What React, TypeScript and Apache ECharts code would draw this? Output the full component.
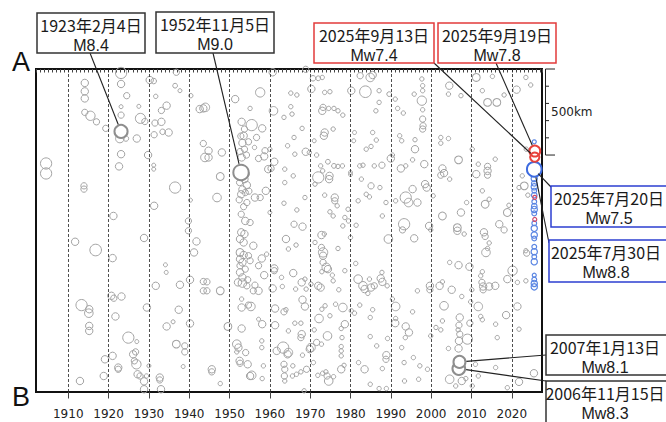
import React, { useEffect, useRef } from 'react';
import * as echarts from 'echarts';

const decades = [1910, 1920, 1930, 1940, 1950, 1960, 1970, 1980, 1990, 2000, 2010, 2020];

// [year, distance from A (km), magnitude]
const quakes1900s: number[][] = [
  [1923.1,23,7.9],[1914.1,81,6.9],[1914.1,130,6.9],[1914.1,171,6.9],[1923.1,87,6.9],[1924.5,155,6.6],[1923.1,219,6.0],[1923.1,268,6.6],[1914.1,252,6.6],[1915.5,272,7.4],[1917,307,6.6],[1919.3,345,6.6],[1922.8,404,7.2],[1924.3,404,6.4],[1927,404,6.9],[1923.1,495,6.9],[1922.6,566,6.9],[1904.5,549,7.9],[1904.5,607,7.9],[1913.9,679,6.6],[1913.9,698,6.6],[1921.2,854,6.9],[1930.2,64,6.9],[1931.2,70,6.4],[1936.8,19,6.6],[1936.5,97,6.2],[1937.7,126,6.0],[1931.7,159,6.1],[1927.5,217,6.0],[1927.9,287,7.6],[1929,305,6.6],[1931.5,314,6.6],[1933.1,307,6.9],[1933.1,241,6.6],[1934.4,213,6.9],[1931.3,382,6.6],[1933.4,365,6.4],[1934.9,369,6.9],[1929.8,500,6.9],[1931.2,559,6.0],[1931.2,582,6.0],[1936.5,689,7.9],[1931.3,795,6.9],[1940.3,762,6.0],[1940.4,155,6.1],[1942.6,233,6.9],[1943.5,229,6.9],[1943.5,433,6.6],[1943.9,514,7.2],[1939.8,883,6.6],
  [1911.7,1004,6.9],[1916.8,1052,8.0],[1921,1099,6.9],[1928.8,982,6.9],[1939.8,940,6.6],[1941.8,1002,6.9],[1941.2,1066,6.9],[1934.1,1138,6.0],[1934.3,1182,6.0],[1931.7,1260,6.9],[1937.7,1254,6.9],[1940.2,1225,6.9],[1943.5,1235,6.6],[1943.5,1289,6.6],[1920.7,1318,6.9],[1921.3,1332,6.6],[1923.2,1322,6.9],[1913.3,1372,7.9],[1915.2,1396,6.9],[1915.1,1419,7.2],[1915.2,1493,6.9],[1915.2,1522,6.9],[1921.7,1438,6.9],[1929.5,1386,6.9],[1937.4,1399,6.9],[1934.4,1496,6.9],[1936,1469,6.0],[1940.2,1479,6.9],[1924.9,1561,7.9],[1927,1584,6.0],[1936.8,1599,7.0],[1938.9,1609,6.6],[1938.9,1644,6.6],[1938.5,1729,6.0],[1921,1667,6.9],[1919.1,1687,6.9],[1922.4,1735,6.9],[1922.4,1745,6.6],[1926.1,1658,6.9],[1926.7,1644,6.6],[1926.9,1716,7.4],[1927.2,1774,6.9],[1927.8,1784,6.6],[1929.4,1784,6.1],[1930,1725,6.0],[1928.8,1815,6.9],[1932.7,1793,6.9],[1932.7,1807,6.6],[1918.8,1784,6.9],[1912.9,1813,6.9],[1928.8,1861,6.9],[1933,1861,6.9],[1926.4,1696,6.6],
];

const quakesMid: number[][] = [
  [1960.7,19,6.9],[1968.9,2,6.6],[1970.7,54,6.4],[1972,54,6.2],[1973,49,6.1],[1957.6,136,7.4],[1951.4,175,6.9],[1960.9,243,7.2],[1955.1,229,6.1],[1953,307,6.9],[1955.5,326,7.9],[1958.1,345,6.9],[1953.7,349,6.6],[1953.5,388,6.9],[1956.7,398,6.6],[1954.7,423,6.6],[1953.7,466,6.6],[1956.2,456,6.1],[1958.8,475,6.6],[1958.6,508,6.9],[1953,514,6.9],[1957.2,520,6.6],[1961.1,539,6.9],[1959.6,582,6.9],[1953.7,640,6.9],[1954.3,675,6.9],[1952.9,728,6.9],[1953.9,718,6.6],[1956.3,747,6.9],[1957.6,747,6.6],[1959,708,6.9],[1946.9,747,7.2],[1947.7,625,7.0],[1954.3,776,6.6],[1952.9,844,6.6],[1953.9,883,6.9],[1955.1,892,6.6],[1944,223,7.2],[1944.8,475,6.9],[1944.8,514,6.9],[1948.1,485,6.9],[1960.3,578,6.6],[1960,834,6.0],[1963.5,281,6.1],[1965.2,140,6.1],[1966.7,151,6.1],[1965.2,219,6.1],[1965.5,262,6.1],[1968,345,6.1],[1966,398,6.1],[1964.4,446,6.1],[1968.9,481,6.9],[1963.7,582,6.1],[1965.8,621,6.1],[1963.7,660,6.1],[1963.5,780,6.1],[1966.7,819,6.1],[1966,902,6.6],[1968.1,916,6.9],[1968.7,747,6.1],[1970.3,116,6.9],[1973.6,136,6.1],[1974.9,132,6.1],[1973.2,223,6.6],[1973,243,6.9],[1974.6,229,6.1],[1975.9,229,6.1],[1976.9,243,6.1],[1978.1,268,6.1],[1973.6,369,6.9],[1973.4,388,6.9],[1975.7,349,6.1],[1971,417,6.0],[1969.8,485,6.1],[1971.6,500,6.1],[1974.4,539,6.2],[1975.9,563,6.2],[1976.9,566,6.1],[1978,563,6.1],[1972.6,563,6.1],[1974.8,621,6.9],[1974.7,640,6.9],[1972,630,7.9],[1973.1,592,6.1],[1971.2,669,6.1],[1976.1,747,6.9],[1976.1,766,6.6],[1976.7,795,6.1],[1973.6,733,6.1],[1974.9,830,6.1],[1975.7,854,6.1],[1978.1,912,6.1],[1980.2,126,6.9],[1983.7,132,8.0],[1982.4,39,6.6],[1984.9,49,7.2],[1981,369,6.0],[1980.8,417,6.0],[1983.9,466,6.1],[1985.1,450,6.1],[1980,601,6.0],[1980,613,6.0],[1982.3,563,6.1],[1983.1,559,6.1],[1982.7,640,6.1],[1985.1,679,6.6],[1983.9,728,6.1],[1984.7,743,6.1],[1981.9,766,6.1],[1979.4,815,6.1],[1981.4,908,6.1],[1979.5,883,6.1],[1978.6,863,6.1],[1966.2,495,6.1],[1960,466,6.1],
  [1952.5,660,6.6],[1953.2,700,6.9],[1952.4,760,6.6],[1953.5,800,6.6],[1954.8,710,6.6],[1952.2,620,6.6],[1954.0,610,6.9],[1952.8,390,6.6],[1953.2,430,6.9],[1952.6,480,6.6],[1954.2,500,6.6],
  [1952.9,949,6.9],[1953.7,959,6.9],[1952.6,988,6.9],[1953.5,1008,6.9],[1952.6,1066,7.0],[1953.5,1081,6.9],[1952.6,1105,6.9],[1953.2,1124,6.9],[1952.6,1143,6.6],[1953.9,1163,6.6],[1952.6,1182,6.9],[1953.2,1211,6.9],[1952.1,1240,6.9],[1953.2,1244,7.2],[1954.3,1260,6.6],[1955.9,1027,6.9],[1954.7,1085,6.6],[1955.1,1114,6.6],[1958,1101,6.9],[1959.2,1076,6.1],[1957.2,1143,6.6],[1958.6,1198,6.9],[1954.5,1225,6.6],[1956.3,1256,6.6],[1957.2,1289,6.9],[1955.9,1289,6.6],[1953,1337,6.1],[1953,1386,6.9],[1955.3,1380,7.2],[1954.7,1372,6.6],[1957.2,1454,6.0],[1958.1,1483,6.9],[1953,1508,6.9],[1949.6,1496,7.0],[1947.7,1289,7.0],[1944.4,1237,6.6],[1944.4,1289,6.6],[1951.8,1599,7.2],[1952.2,1619,6.9],[1951.8,1644,6.1],[1954,1648,6.6],[1952.5,1696,6.9],[1952.6,1710,6.6],[1954.5,1716,6.9],[1955.1,1784,6.9],[1955.5,1780,7.2],[1958,1580,6.1],[1958,1619,6.1],[1958.4,1725,6.1],[1958.1,1799,6.1],[1947.7,1828,6.1],[1945.6,1745,6.9],[1945.6,1760,6.6],[1964,988,6.9],[1964.6,1046,6.1],[1966.5,1023,6.1],[1961.1,1159,6.9],[1961.1,1172,6.6],[1965.8,1186,6.9],[1962.9,1211,6.1],[1960.7,1275,6.9],[1963.1,1264,6.1],[1966.4,1279,6.1],[1967.9,1240,6.9],[1968.7,1221,6.1],[1969,1279,6.1],[1968.1,1341,6.9],[1968.7,1380,6.9],[1961.3,1392,6.9],[1963.5,1411,6.6],[1964,1399,6.1],[1961.3,1489,6.9],[1966.2,1477,6.1],[1967.7,1477,6.1],[1967.9,1541,6.9],[1967.7,1561,6.6],[1964.6,1522,6.1],[1963.3,1619,7.9],[1964.6,1648,7.2],[1964.4,1658,6.9],[1961.7,1638,6.9],[1968.1,1663,6.1],[1963.5,1716,6.6],[1963.7,1745,6.6],[1963.6,1784,6.6],[1965.6,1784,6.1],[1966.6,1774,6.1],[1967.7,1760,6.1],[1969.1,1745,6.6],[1965.7,1725,6.1],[1963.7,1813,6.1],[1968.5,1870,6.1],[1970.2,1619,7.2],[1969.9,1628,6.9],[1971.6,1589,6.6],[1972.8,1599,6.1],[1970.8,1706,6.1],[1971.9,1780,6.1],[1973.1,1768,6.1],[1973.9,1760,6.1],[1974.2,1784,6.6],[1974.6,1813,7.2],[1975.8,1788,6.1],[1974.3,1551,7.2],[1972.2,1450,7.2],[1974.9,1434,6.1],[1973.7,1376,6.1],[1972.9,1396,6.1],[1971,1516,6.1],[1972.8,965,6.9],[1973.5,959,6.1],[1971.2,1008,6.1],[1973.2,1066,7.4],[1973.2,1085,6.9],[1973.2,1124,6.6],[1974,1153,7.2],[1974.4,1163,6.9],[1972.9,1178,6.1],[1975.5,1198,6.1],[1975.7,1231,6.1],[1972,1260,6.9],[1972.6,1270,6.9],[1970.2,1250,6.1],[1976.9,1043,6.1],[1978.6,1172,6.1],[1977.1,1283,6.1],[1978.1,1386,7.2],[1976.3,1367,6.1],[1978.6,1483,6.9],[1977.7,1508,6.1],[1977.9,1561,6.1],[1977.7,1613,6.1],[1977.7,1638,6.1],[1977.7,1667,6.1],[1977.7,1745,6.9],[1978.4,1722,6.1],[1980,979,6.1],[1981.3,1130,6.1],[1981.9,1221,7.2],[1983.1,1260,7.2],[1983.5,1279,6.9],[1984.7,1221,6.1],[1985.1,1270,6.9],[1984.3,1304,6.1],[1982.3,1372,6.1],[1981,1419,6.1],[1984.9,1444,6.1],[1984.9,1555,6.1],[1982,1706,6.1],[1983.5,1745,6.9],[1984.9,1832,6.1],[1980.2,1405,6.1],[1972.8,1037,6.6],
];

const quakesRecent: number[][] = [
  [1985.5,35,6.9],[1987.1,126,6.1],[1989.6,146,6.2],[1987.1,194,6.1],[1986.3,243,6.1],[1991.1,175,6.1],[1991.7,229,6.1],[1993.1,256,6.1],[1997.7,58,6.1],[1997.9,97,6.1],[1997.9,126,6.1],[1997.7,184,7.4],[1997.9,237,6.1],[1997.9,291,6.6],[1998,330,6.6],[1997.9,349,6.6],[1995.8,146,6.1],[2004.5,97,6.9],[2004.3,146,6.1],[2007.4,155,6.1],[2011.2,49,7.0],[2015.2,43,6.1],[2012.7,126,6.1],[2014,194,7.0],[2016.3,194,7.0],[2018.1,151,6.1],[2021.2,120,6.9],[2023.5,49,6.1],[2024.7,93,6.1],[1985.5,369,6.1],[1986.4,413,6.1],[1992.2,388,6.1],[1992.7,417,6.1],[1996,411,6.1],[1996,466,6.9],[2002.4,398,6.1],[2004.3,404,6.1],[2002.4,431,6.1],[2006.8,528,7.0],[2002.8,578,6.9],[2003.2,605,6.9],[2002.4,617,6.6],[2004.6,640,6.1],[1998.3,553,6.9],[1995.4,528,6.1],[1993.7,563,6.1],[1990,520,6.9],[1990.4,500,6.1],[1987.8,559,6.6],[1992.5,578,6.9],[1985.9,563,6.1],[1998.5,669,6.9],[1998.9,689,6.9],[1995.4,698,6.9],[1993.7,747,7.9],[1994.4,776,7.2],[1996.6,776,6.9],[1993.3,902,7.9],[1991.2,766,6.1],[1988.8,776,6.1],[1987.3,689,6.1],[1987.9,854,6.1],[1999.5,912,6.9],[2000.5,737,6.1],[2002.8,854,7.0],[2007.4,834,6.9],[2006.5,922,7.0],[2010.2,466,6.1],[2011.7,553,6.1],[2014,566,6.6],[2014,592,6.9],[2014,617,6.6],[2011.2,611,6.9],[2015.9,524,6.1],[2012.7,708,6.1],[2013.4,786,7.0],[2014.4,757,6.1],[2008.8,776,6.1],[2018.9,834,7.0],[2019.3,792,6.1],[2016.9,902,6.9],[2023.1,679,7.0],[2022.6,621,6.1],[2023.6,466,6.1],[2021.8,689,6.1],[2024,733,6.1],
  [1989.4,988,7.2],[1995.8,984,6.9],[1992.9,935,6.6],[1999.9,935,6.1],[2006.5,940,6.9],[2008.2,959,6.1],[2013.1,949,6.9],[2013.4,973,6.6],[2014.4,1011,6.1],[2013.6,1066,7.2],[2014,1043,6.1],[2018.1,935,6.6],[2004.6,1124,6.1],[2006.8,1140,6.9],[2009.5,1149,6.9],[2020.2,1172,7.4],[2023.5,1056,6.1],[2023.7,1070,6.6],[1987.8,1182,6.1],[1987.5,1217,6.9],[1987.9,1237,6.9],[1989.1,1260,6.1],[1985.9,1260,6.6],[1996.6,1289,6.1],[1999.7,1260,6.9],[1999.7,1283,6.6],[2002.1,1260,6.9],[2002.8,1237,6.1],[2005.1,1283,6.9],[2007.6,1322,6.1],[2010.1,1283,6.1],[2012.6,1240,6.6],[2012.9,1264,6.9],[2012.9,1283,6.6],[2014.4,1264,6.9],[2015.9,1260,6.9],[2012.7,1178,6.1],[2012.3,1202,6.1],[2018.9,1221,6.9],[2021.4,1240,6.1],[2023.5,1231,6.1],[1990.4,1337,6.1],[1991.2,1380,7.2],[1985.5,1399,6.1],[1995.4,1411,6.1],[2003.2,1376,7.2],[2009.8,1353,6.1],[2011.7,1380,7.2],[2012.3,1438,6.1],[2012.7,1457,6.1],[2007.1,1444,6.9],[2006.9,1489,6.6],[2006.7,1516,6.1],[2007.1,1541,6.6],[2006.9,1580,6.9],[2009.6,1477,6.6],[2009,1570,7.6],[2006.8,1624,6.9],[2004.3,1624,6.1],[2002.8,1464,6.1],[2001.2,1502,6.1],[2002.4,1516,6.1],[1999.9,1551,6.1],[2016,1483,6.1],[2018.6,1430,6.9],[2021.4,1380,6.9],[2021.8,1512,6.1],[2016.4,1561,6.1],[1991.2,1450,6.1],[1993.7,1496,6.9],[1994.5,1531,6.9],[1993.6,1561,6.1],[1991.1,1477,6.9],[1989.2,1566,6.1],[1986.5,1609,6.1],[1988.9,1663,6.9],[1988.8,1687,6.6],[1987.9,1741,6.1],[1992.7,1619,6.1],[1993.3,1706,6.1],[1995.6,1677,6.1],[1997.2,1725,6.1],[1999.1,1745,6.1],[1996.9,1803,6.1],[2004.6,1803,7.2],[2007.6,1813,6.9],[2008.6,1799,6.1],[2006.1,1842,6.1],[2010.2,1842,6.1],[2011.7,1784,6.1],[2011,1716,6.1],[2016,1735,6.1],[2021.8,1818,6.9],[2025.5,1768,6.9],[1987.1,1857,6.1],[1988.9,1857,6.1],[1993.4,1813,6.1],[2018.9,1852,6.1],
];

// 2025 Kamchatka sequence
const aftershocksBlue: number[][] = [
  [2025.58,423,6.0],[2025.58,636,6.6],[2025.58,665,6.4],[2025.58,684,6.6],[2025.58,707,6.2],[2025.58,733,6.4],[2025.58,771,6.2],[2025.58,797,6.4],[2025.58,816,6.6],[2025.58,839,6.2],[2025.58,897,6.2],[2025.58,926,6.6],[2025.58,965,6.6],[2025.58,985,6.2],[2025.58,1033,6.2],[2025.58,1062,6.6],[2025.58,1091,6.2],[2025.58,1120,6.6],[2025.58,1198,6.0],[2025.58,1223,6.2],[2025.58,1246,6.6],[2025.58,1266,6.6],
];
const aftershocksRed: number[][] = [[2025.7,746,6.0],[2025.7,874,6.0]];

const majorGrey: number[][] = [[1923.09,363,8.4],[1952.85,601,9.0],[2006.87,1741,8.3],[2007.03,1702,8.1]];
const majorBlue: number[][] = [[2025.55,583,7.5],[2025.58,583,8.8]];
const majorRed: number[][] = [[2025.70,512,7.4],[2025.72,477,7.8]];

const scaleKm = [0, 100, 200, 300, 400, 500];

const callouts = [
  { lines: ['1923年2月4日', 'M8.4'], ev: majorGrey[0], box: [37, 13, 108, 40], from: [90, 53], color: '#333', tx: 91 },
  { lines: ['1952年11月5日', 'M9.0'], ev: majorGrey[1], box: [156, 12, 118, 41], from: [213, 53], color: '#333', tx: 215 },
  { lines: ['2025年9月13日', 'Mw7.4'], ev: majorRed[0], box: [314, 23, 120, 40], from: [434, 63], color: '#e23b3b', tx: 374 },
  { lines: ['2025年9月19日', 'Mw7.8'], ev: majorRed[1], box: [438, 23, 118, 40], from: [496, 63], color: '#e23b3b', tx: 497 },
  { lines: ['2025年7月20日', 'Mw7.5'], ev: majorBlue[0], box: [551, 186, 122, 41], from: [551, 187], color: '#2d3fd1', tx: 609 },
  { lines: ['2025年7月30日', 'Mw8.8'], ev: majorBlue[1], box: [549, 240, 122, 42], from: [549, 243], color: '#2d3fd1', tx: 606 },
  { lines: ['2007年1月13日', 'Mw8.1'], ev: majorGrey[3], box: [546, 335, 124, 40], from: [546, 355], color: '#333', tx: 605 },
  { lines: ['2006年11月15日', 'Mw8.3'], ev: majorGrey[2], box: [546, 381, 124, 44], from: [546, 381], color: '#333', tx: 605 },
];

const diam = (m: number) => 4 + (m - 6) * 3.8;

export default function App() {
  const ref = useRef<HTMLDivElement>(null);
  useEffect(() => {
    document.body.style.margin = '0';
    const chart = echarts.init(ref.current!, null, { renderer: 'svg' });
    const circle = (color: string, fill: string, width: number) => ({
      type: 'scatter', symbol: 'circle', symbolSize: (v: number[]) => diam(v[2]),
      itemStyle: { color: fill, borderColor: color, borderWidth: width, opacity: 1 },
      emphasis: { disabled: true }, silent: true,
    });
    chart.setOption({
      animation: false,
      grid: { left: 36, right: 124, top: 69, bottom: 30, show: true, borderColor: '#111', borderWidth: 2, backgroundColor: 'transparent' },
      xAxis: [
        {
          type: 'value', min: 1902, max: 2027.5, interval: 1,
          axisLine: { show: true, lineStyle: { color: '#111', width: 2 } },
          axisTick: { show: true, length: 3.5, lineStyle: { color: '#444', width: 1 } },
          axisLabel: {
            margin: 16, fontSize: 12, fontFamily: 'DejaVu Sans', color: '#222',
            formatter: (v: number) => { const r = Math.round(v); return Math.abs(v - r) < 1e-6 && r % 10 === 0 ? String(r) : ''; },
          },
          splitLine: { show: false },
        },
        {
          type: 'value', min: 1902, max: 2027.5, position: 'bottom', gridIndex: 0,
          axisLine: { show: false },
          axisTick: { show: true, length: 6.5, customValues: decades, lineStyle: { color: '#444', width: 1 } },
          axisLabel: { show: false },
          splitLine: { show: false },
        },
      ],
      yAxis: { type: 'value', min: 0, max: 1877, inverse: true, show: false, splitLine: { show: false } },
      series: [
        {
          ...circle('#a3a3a3', 'rgba(255,255,255,0)', 1),
          data: [...quakes1900s, ...quakesMid, ...quakesRecent],
          markLine: {
            silent: true, symbol: ['none', 'none'], label: { show: false },
            lineStyle: { color: '#222', width: 0.8, type: [3, 2] },
            emphasis: { disabled: true },
            data: decades.map((d) => ({ xAxis: d })),
          },
        },
        { ...circle('#5b86e3', 'rgba(255,255,255,0)', 1.2), data: aftershocksBlue },
        { ...circle('#d04a6a', 'rgba(255,255,255,0)', 1.2), data: aftershocksRed },
        { ...circle('#8e8e8e', '#ffffff', 2), data: majorGrey },
        { ...circle('#3d6be0', '#ffffff', 2), data: majorBlue },
        { ...circle('#e8423c', 'rgba(255,255,255,0)', 2), data: majorRed },
      ],
    });

    const px = (p: number[]) => chart.convertToPixel({ seriesIndex: 0 }, [p[0], p[1]]) as number[];
    const g: any[] = [];
    // scale bar
    const sx = 545.5;
    const top = px([2000, scaleKm[0]])[1];
    const bot = px([2000, scaleKm[scaleKm.length - 1]])[1];
    g.push({ type: 'line', shape: { x1: sx, y1: top, x2: sx, y2: bot }, style: { stroke: '#222', lineWidth: 1 } });
    scaleKm.forEach((k, i) => {
      const y = px([2000, k])[1];
      const long = i === 0 || i === scaleKm.length - 1;
      g.push({ type: 'line', shape: { x1: sx, y1: y, x2: sx + (long ? 9.5 : 3.5), y2: y }, style: { stroke: '#222', lineWidth: 1 } });
    });
    g.push({ type: 'text', x: 551, y: px([2000, 250])[1], style: { text: '500km', fontSize: 12, fontFamily: 'DejaVu Sans', fill: '#222', verticalAlign: 'middle', align: 'left' } });
    g.push({ type: 'text', x: 21, y: 62, style: { text: 'A', fontSize: 27, fontFamily: 'Liberation Sans', fill: '#111', align: 'center', verticalAlign: 'middle' } });
    g.push({ type: 'text', x: 21, y: 397, style: { text: 'B', fontSize: 27, fontFamily: 'Liberation Sans', fill: '#111', align: 'center', verticalAlign: 'middle' } });

    callouts.forEach((c) => {
      const [cx, cy] = px(c.ev);
      const r = diam(c.ev[2]) / 2 + 1;
      const dx = cx - c.from[0];
      const dy = cy - c.from[1];
      const len = Math.sqrt(dx * dx + dy * dy) || 1;
      g.push({ type: 'line', z: 90, shape: { x1: c.from[0], y1: c.from[1], x2: cx - (dx / len) * r, y2: cy - (dy / len) * r }, style: { stroke: '#222', lineWidth: 1.1 } });
      const [bx, by, bw, bh] = c.box;
      g.push({ type: 'rect', z: 95, shape: { x: bx, y: by, width: bw, height: bh }, style: { fill: '#fff', stroke: c.color, lineWidth: 1.5 } });
      const fs = c.lines[0].length > 11 ? 15 : 16;
      g.push({ type: 'text', z: 96, x: c.tx, y: by + 11.5, style: { text: c.lines[0], fontSize: fs, fontFamily: 'Noto Sans CJK JP', fill: '#1a1a1a', align: 'center', verticalAlign: 'middle' } });
      g.push({ type: 'text', z: 96, x: c.tx, y: by + 32, style: { text: c.lines[1], fontSize: 16, fontFamily: 'Liberation Sans', fill: '#1a1a1a', align: 'center', verticalAlign: 'middle' } });
    });
    chart.setOption({ graphic: g });
    return () => chart.dispose();
  }, []);
  return <div ref={ref} style={{ position: 'absolute', left: 0, top: 0, width: 666, height: 422 }} />;
}
